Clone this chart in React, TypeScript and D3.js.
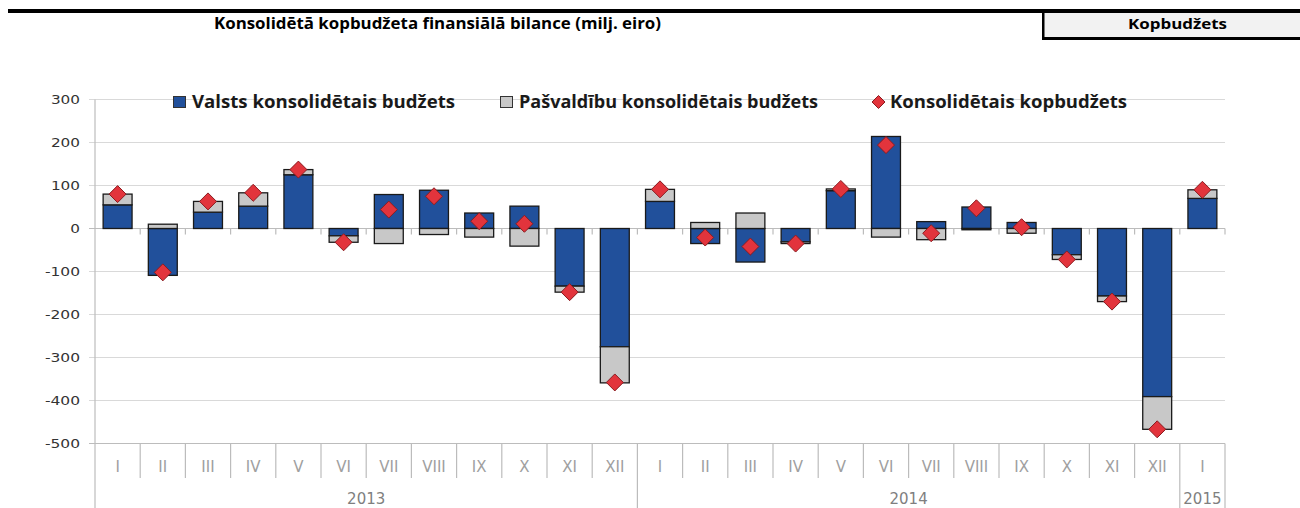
import { useEffect, useRef } from 'react'
import * as d3 from 'd3'

const MONTHS = ['I', 'II', 'III', 'IV', 'V', 'VI', 'VII', 'VIII', 'IX', 'X', 'XI', 'XII']
const YEARS = ['2013', '2014', '2015']
const YEAR_MONTHS = [12, 12, 1]

// milj. eiro
const VALSTS = [55, -109, 38, 52, 125, -17, 79, 89, 36, 52, -134, -275, 63, -35, -78, -31, 88, 214, 16, 50, 14, -61, -157, -391, 70]
const PASVALDIBU = [25, 10, 25, 31, 12, -15, -35, -14, -20, -41, -14, -84, 28, 14, 36, -4, 4, -20, -26, -3, -11, -11, -13, -76, 20]
const KOPBUDZETS = [80, -102, 63, 83, 137, -32, 44, 75, 17, 11, -148, -358, 91, -21, -42, -35, 92, 194, -11, 47, 3, -72, -170, -467, 90]

const Y_TICKS = [300, 200, 100, 0, -100, -200, -300, -400, -500]

const BLUE = '#21509b'
const GREY = '#c8c8c8'
const RED = '#e2343c'

export default function App() {
  const ref = useRef<SVGSVGElement | null>(null)

  useEffect(() => {
    if (!ref.current) return
    const svg = d3.select(ref.current)
    svg.selectAll('*').remove()

    const left = 95
    const right = 1225
    const cats: { key: string; month: string; year: string }[] = []
    YEARS.forEach((yr, yi) => {
      for (let m = 0; m < YEAR_MONTHS[yi]; m++) cats.push({ key: `${yr}-${MONTHS[m]}`, month: MONTHS[m], year: yr })
    })

    const x = d3.scaleBand().domain(cats.map((c) => c.key)).range([left, right]).paddingInner(0.36).paddingOuter(0.18)
    const step = x.step()
    const y = d3.scaleLinear().domain([-500, 300]).range([443.5, 99.5])

    // header
    svg.append('rect').attr('x', 8).attr('y', 9).attr('width', 1292).attr('height', 4).attr('fill', '#000')
    svg.append('rect').attr('x', 1043).attr('y', 13).attr('width', 257).attr('height', 25).attr('fill', '#f2f2f2')
    svg.append('rect').attr('x', 1042).attr('y', 13).attr('width', 2.5).attr('height', 27).attr('fill', '#000')
    svg.append('rect').attr('x', 1042).attr('y', 37).attr('width', 258).attr('height', 3).attr('fill', '#000')
    svg
      .append('text')
      .attr('x', 214)
      .attr('y', 29)
      .attr('font-family', 'Open Sans, sans-serif')
      .attr('font-weight', 700)
      .attr('font-size', 16)
      .attr('textLength', 447)
      .attr('lengthAdjust', 'spacingAndGlyphs')
      .text('Konsolidētā kopbudžeta finansiālā bilance (milj. eiro)')
    svg
      .append('text')
      .attr('x', 1128)
      .attr('y', 29)
      .attr('font-family', 'Open Sans, sans-serif')
      .attr('font-weight', 700)
      .attr('font-size', 15)
      .attr('textLength', 99)
      .attr('lengthAdjust', 'spacingAndGlyphs')
      .text('Kopbudžets')

    // gridlines + y labels
    Y_TICKS.forEach((t) => {
      svg
        .append('line')
        .attr('x1', 89)
        .attr('x2', right)
        .attr('y1', y(t))
        .attr('y2', y(t))
        .attr('stroke', t === 0 || t === -500 ? '#bcbcbc' : '#d9d9d9')
        .attr('stroke-width', 1.2)
      const label = String(t)
      svg
        .append('text')
        .attr('x', 80)
        .attr('y', y(t) + 4.5)
        .attr('text-anchor', 'end')
        .attr('font-family', 'DejaVu Sans, sans-serif')
        .attr('font-size', 12)
        .attr('fill', '#333')
        .attr('textLength', label.replace('-', '').length * 9.7 + (t < 0 ? 6 : 0))
        .attr('lengthAdjust', 'spacingAndGlyphs')
        .text(label)
    })

    svg.append('line').attr('x1', left).attr('x2', left).attr('y1', y(300)).attr('y2', 508).attr('stroke', '#bcbcbc').attr('stroke-width', 1.2)

    // category separators and zero-line ticks
    const yearEnds: number[] = []
    let acc = 0
    YEAR_MONTHS.forEach((n) => {
      acc += n
      yearEnds.push(acc)
    })
    for (let i = 1; i <= cats.length; i++) {
      const bx = left + i * step
      const long = yearEnds.includes(i)
      svg.append('line').attr('x1', bx).attr('x2', bx).attr('y1', y(-500)).attr('y2', long ? 508 : 478).attr('stroke', '#bcbcbc').attr('stroke-width', 1.2)
      svg.append('line').attr('x1', bx).attr('x2', bx).attr('y1', y(0)).attr('y2', y(0) + 6).attr('stroke', '#bcbcbc').attr('stroke-width', 1.2)
    }

    cats.forEach((c) => {
      svg
        .append('text')
        .attr('x', (x(c.key) ?? 0) + x.bandwidth() / 2)
        .attr('y', 472)
        .attr('text-anchor', 'middle')
        .attr('font-family', 'DejaVu Sans, sans-serif')
        .attr('font-size', 15)
        .attr('fill', '#a0a0a0')
        .text(c.month)
    })

    let start = 0
    YEARS.forEach((yr, yi) => {
      const cx = left + (start + YEAR_MONTHS[yi] / 2) * step
      svg
        .append('text')
        .attr('x', cx)
        .attr('y', 504)
        .attr('text-anchor', 'middle')
        .attr('font-family', 'DejaVu Sans, sans-serif')
        .attr('font-size', 15)
        .attr('fill', '#7f7f7f')
        .text(yr)
      start += YEAR_MONTHS[yi]
    })

    // stacked bars
    const rows = cats.map((c, i) => ({ key: c.key, valsts: VALSTS[i], pasv: PASVALDIBU[i] }))
    const series = d3.stack<any>().keys(['valsts', 'pasv']).offset(d3.stackOffsetDiverging)(rows)
    const fills: Record<string, string> = { valsts: BLUE, pasv: GREY }
    series.forEach((s) => {
      svg
        .append('g')
        .selectAll('rect')
        .data(s)
        .join('rect')
        .attr('x', (d: any) => x(d.data.key) ?? 0)
        .attr('width', x.bandwidth())
        .attr('y', (d: any) => y(Math.max(d[0], d[1])))
        .attr('height', (d: any) => Math.abs(y(d[0]) - y(d[1])))
        .attr('fill', fills[s.key])
        .attr('stroke', '#1a1a1a')
        .attr('stroke-width', 1.3)
    })

    // diamonds
    const diamond = (cx: number, cy: number, r: number) => `M${cx},${cy - r}L${cx + r},${cy}L${cx},${cy + r}L${cx - r},${cy}Z`
    svg
      .append('g')
      .selectAll('path')
      .data(KOPBUDZETS)
      .join('path')
      .attr('d', (v, i) => diamond((x(cats[i].key) ?? 0) + x.bandwidth() / 2, y(v), 8.5))
      .attr('fill', RED)
      .attr('stroke', '#8a1c20')
      .attr('stroke-width', 1)

    // legend
    const lg = svg.append('g').attr('font-family', 'Open Sans, sans-serif').attr('font-weight', 700).attr('font-size', 17).attr('fill', '#1a1a1a')
    lg.append('rect').attr('x', 173.5).attr('y', 96.5).attr('width', 12).attr('height', 11).attr('fill', BLUE).attr('stroke', '#333')
    lg.append('text').attr('x', 192).attr('y', 107.5).attr('textLength', 263).attr('lengthAdjust', 'spacingAndGlyphs').text('Valsts konsolidētais budžets')
    lg.append('rect').attr('x', 500.5).attr('y', 96.5).attr('width', 12).attr('height', 11).attr('fill', GREY).attr('stroke', '#333')
    lg.append('text').attr('x', 519).attr('y', 107.5).attr('textLength', 299).attr('lengthAdjust', 'spacingAndGlyphs').text('Pašvaldību konsolidētais budžets')
    lg.append('path').attr('d', diamond(878.5, 102, 6.5)).attr('fill', RED).attr('stroke', '#8a1c20')
    lg.append('text').attr('x', 890).attr('y', 107.5).attr('textLength', 237).attr('lengthAdjust', 'spacingAndGlyphs').text('Konsolidētais kopbudžets')
  }, [])

  return <svg ref={ref} width={1300} height={508} style={{ position: 'absolute', left: 0, top: 0, background: '#fff' }} />
}
